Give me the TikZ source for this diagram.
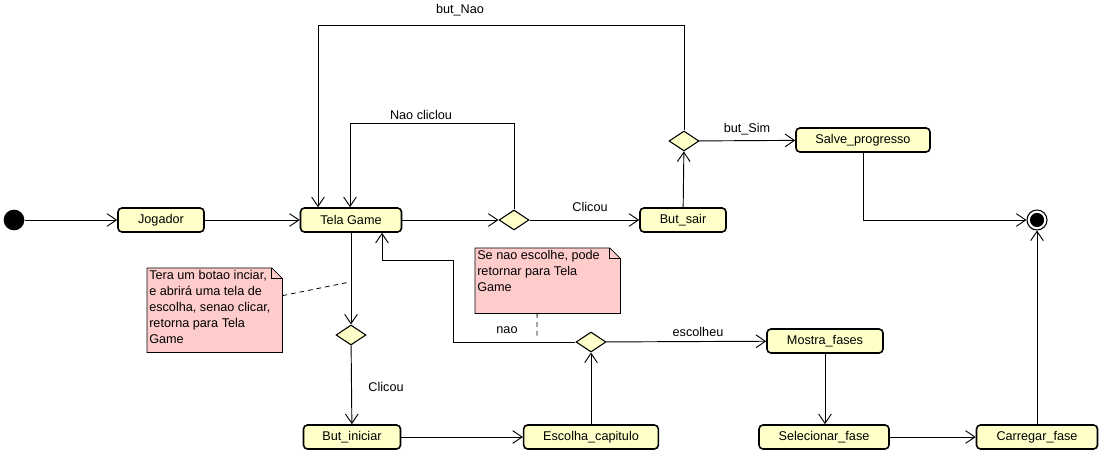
\documentclass[tikz,border=0pt]{standalone}
\usepackage{fontspec}
\setmainfont{Liberation Sans}
\usetikzlibrary{shapes.geometric,arrows.meta,backgrounds}
\definecolor{stfill}{HTML}{FFFFCA}
\definecolor{notefill}{HTML}{FFCCCC}

\begin{document}
\begin{tikzpicture}[x=0.75pt,y=-0.75pt,
  font=\fontsize{9.5}{12}\selectfont,
  state/.style={draw,line width=1.2pt,rounded corners=3pt,fill=stfill,minimum height=18pt,inner sep=1pt},
  choice/.style={draw,diamond,line width=0.8pt,fill=stfill,minimum width=22.5pt,minimum height=15pt,inner sep=0pt},
  flow/.style={line width=0.7pt,-{Straight Barb[length=7pt,width=9.5pt]}},
  note/.style={anchor=north west,inner sep=1.5pt},
  lbl/.style={inner sep=0pt}]
\useasboundingbox (0,0) rectangle (1109,459);

% states
\node[circle,fill,minimum size=15.5pt,inner sep=0pt] (start) at (14,220) {};
\node[state,minimum width=64.5pt] (jog) at (161,220) {Jogador};
\node[state,minimum width=75.75pt] (tela) at (351,220) {Tela Game};
\node[choice] (d1) at (514,220) {};
\node[state,minimum width=64.5pt] (sair) at (683,220) {But\_sair};
\node[choice] (d2) at (684,141) {};
\node[state,minimum width=100.5pt] (salve) at (863,140) {Salve\_progresso};
\node[circle,draw,line width=0.8pt,minimum size=15pt,inner sep=0pt,
  path picture={\fill (path picture bounding box.center) circle (5.3pt);}] (fim) at (1037,220) {};
\node[choice] (d4) at (351,335) {};
\node[state,minimum width=72.75pt] (ini) at (352,437) {But\_iniciar};
\node[state,minimum width=101pt] (cap) at (591,437) {Escolha\_capitulo};
\node[choice] (d3) at (591,342) {};
\node[state,minimum width=87pt] (mostra) at (825,341) {Mostra\_fases};
\node[state,minimum width=97.5pt] (sel) at (824,437) {Selecionar\_fase};
\node[state,minimum width=90.75pt] (carr) at (1037,437) {Carregar\_fase};

% notes
\node[note] (n1) at (147,268) {\begin{minipage}[t][60pt][t]{98.25pt}\raggedright Tera um botao inciar,\\ e abrirá uma tela de\\ escolha, senao clicar,\\ retorna para Tela\\ Game\end{minipage}};
\node[note] (n2) at (475,248) {\begin{minipage}[t][45.75pt][t]{105.75pt}\raggedright Se nao escolhe, pode\\ retornar para Tela\\ Game\end{minipage}};
\begin{scope}[on background layer]
\foreach \n in {n1,n2} {
  \filldraw[fill=notefill,line width=0.6pt] (\n.south west) -- (\n.north west) -- ([xshift=-8pt]\n.north east)
    -- ([yshift=-8pt]\n.north east) -- (\n.south east) -- cycle;
  \draw[line width=0.6pt] ([xshift=-8pt]\n.north east) |- ([yshift=-8pt]\n.north east);
}
\end{scope}

% transitions
\coordinate (nc) at (350,123);
\coordinate (bn) at (318,25);
\coordinate (rn) at (453,260);
\coordinate (rt) at (382,260);
\draw[flow] (start) -- (jog);
\draw[flow] (jog) -- (tela);
\draw[flow] (tela) -- (d1);
\draw[flow] (d1) -- (sair);
\draw[flow] (d1.north) |- (nc) -- (nc |- tela.north);
\draw[flow] (sair) -- (d2);
\draw[flow] (d2.north) |- (bn) -- (bn |- tela.north);
\draw[flow] (d2) -- (salve);
\draw[flow] (salve) |- (fim);
\draw[flow] (tela) -- (d4);
\draw[flow] (d4) -- (ini);
\draw[flow] (ini) -- (cap);
\draw[flow] (cap) -- (d3);
\draw[flow] (d3.west) -| (rn) -- (rt) -- (rt |- tela.south);
\draw[flow] (d3) -- (mostra);
\draw[flow] (mostra) -- (mostra.south |- sel.north);
\draw[flow] (sel) -- (carr);
\draw[flow] (carr) -- (fim);

% note links
\coordinate (a1) at (350,282);
\coordinate (a2) at (537,338);
\draw[dash pattern=on 3.5pt off 3pt,line width=0.6pt] ([yshift=11pt]n1.east) -- (a1);
\draw[dash pattern=on 3.5pt off 3pt,line width=0.6pt] ([xshift=-8pt]n2.south) -- (a2);

% labels
\node[lbl] (l1) at (421,115) {Nao cliclou};
\node[lbl] (l2) at (460,10) {but\_Nao};
\node[lbl] (l3) at (590,207) {Clicou};
\node[lbl] (l4) at (747,129) {but\_Sim};
\node[lbl] (l5) at (386,387) {Clicou};
\node[lbl] (l6) at (507,330) {nao};
\node[lbl] (l7) at (698,332) {escolheu};
\end{tikzpicture}
\end{document}
